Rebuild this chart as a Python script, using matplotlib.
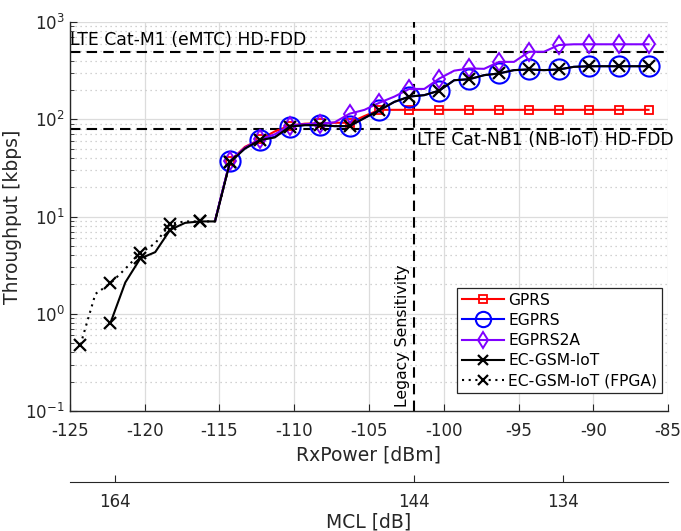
import matplotlib
matplotlib.use("Agg")
import matplotlib.pyplot as plt
from matplotlib.lines import Line2D

plt.rcParams['font.family'] = ['DejaVu Sans']

# ---------------- data ----------------
rx_upper = [-115.3, -114.3, -113.3, -112.3, -111.3, -110.3, -109.3, -108.3, -107.3, -106.3,
            -105.3, -104.3, -103.3, -102.3, -101.3, -100.3, -99.3, -98.3, -97.3, -96.3,
            -95.3, -94.3, -93.3, -92.3, -91.3, -90.3, -89.3, -88.3, -87.3, -86.3]

gprs = [9, 37, 52, 62, 75, 86, 90, 91, 92, 92,
        108, 125, 125, 125, 125, 125, 125, 125, 125, 125,
        125, 125, 125, 125, 125, 125, 125, 125, 125, 125]

egprs = [9, 37, 50, 61, 66, 84, 87, 87, 85, 85,
         103, 124, 151, 171, 177, 197, 252, 258, 284, 296,
         320, 325, 320, 325, 346, 351, 351, 351, 351, 351]

egprs2a = [9, 37, 51, 62, 70, 86, 89, 90, 93, 114,
           125, 148, 171, 205, 205, 262, 316, 333, 330, 389,
           389, 494, 494, 580, 590, 590, 590, 590, 590, 590]

rx_ec = [-122.3, -121.3, -120.3, -119.3, -118.3, -117.3, -116.3, -115.3, -114.3, -113.3,
         -112.3, -111.3, -110.3, -109.3, -108.3, -107.3, -106.3, -105.3, -104.3, -103.3,
         -102.3, -101.3, -100.3, -99.3, -98.3, -97.3, -96.3, -95.3, -94.3, -93.3,
         -92.3, -91.3, -90.3, -89.3, -88.3, -87.3, -86.3]
ec_gsm = [0.8, 2.1, 3.7, 4.3, 7.3, 8.6, 8.9, 8.9, 36, 50,
          61, 65, 84, 87, 87, 85, 85, 103, 124, 151,
          171, 177, 197, 252, 258, 284, 296, 320, 325, 320,
          325, 346, 351, 351, 351, 351, 351]

rx_fpga = [-124.3, -123.3, -122.3, -121.3, -120.3, -119.3, -118.3, -117.3, -116.3, -115.3, -114.3]
ec_fpga = [0.48, 1.6, 2.05, 2.9, 4.2, 5.3, 8.4, 8.9, 8.9, 8.9, 36]

cat_m1 = 495
cat_nb1 = 80
legacy_sens = -102
tx_power = 42
mcl_ticks = [164, 144, 134]
x_ticks = [-125, -120, -115, -110, -105, -100, -95, -90, -85]

# ---------------- figure ----------------
fig = plt.figure(figsize=(6.81, 5.31), dpi=100)
L, R, T, B = 70, 668, 22, 411
ax = fig.add_axes([L / 681, (531 - B) / 531, (R - L) / 681, (B - T) / 531])

ax.set_yscale('log')
ax.set_xlim(-125, -85)
ax.set_ylim(0.1, 1000)

grid_c = '#dcdcdc'
ax.grid(True, which='major', axis='both', color=grid_c, lw=0.9, ls='-')
ax.grid(True, which='minor', axis='y', color='#c4c4c4', lw=0.9, ls=(0, (1, 3)))
ax.set_axisbelow(True)

dash = (0, (5, 3))
ax.axhline(cat_m1, color='black', lw=1.5, ls=dash, zorder=2)
ax.axhline(cat_nb1, color='black', lw=1.5, ls=dash, zorder=2)
ax.axvline(legacy_sens, color='black', lw=1.5, ls=dash, zorder=2)

purple = '#8000ff'
ax.plot(rx_upper, gprs, color='red', lw=1.5, marker='s', ms=6, mfc='none', mew=1.3,
        markevery=(1, 2), label='GPRS', zorder=3)
ax.plot(rx_upper, egprs, color='blue', lw=1.5, marker='o', ms=14.5, mfc='none', mew=1.5,
        markevery=(1, 2), label='EGPRS', zorder=3)
ax.plot(rx_upper, egprs2a, color=purple, lw=1.5, marker='d', ms=9.5, mfc='none', mew=1.4,
        markevery=(1, 2), label='EGPRS2A', zorder=3)
ax.plot(rx_ec, ec_gsm, color='black', lw=1.5, marker='x', ms=8, mew=1.6,
        markevery=(0, 2), label='EC-GSM-IoT', zorder=4)
ax.plot(rx_fpga, ec_fpga, color='black', lw=1.5, ls=(0, (1, 2.2)), marker='x', ms=8, mew=1.6,
        markevery=(0, 2), label='EC-GSM-IoT (FPGA)', zorder=4)

ax.annotate('LTE Cat-M1 (eMTC) HD-FDD', xy=(-125, cat_m1), xytext=(0, 2),
            textcoords='offset points', ha='left', va='bottom', fontsize=12.4)
ax.annotate('LTE Cat-NB1 (NB-IoT) HD-FDD', xy=(legacy_sens, cat_nb1), xytext=(2, -2),
            textcoords='offset points', ha='left', va='top', fontsize=12.4,
            annotation_clip=False)
ax.annotate('Legacy Sensitivity', xy=(legacy_sens, 0.1), xytext=(-3, 3),
            textcoords='offset points', ha='right', va='bottom', rotation=90, fontsize=11.3)

ax.set_xticks(x_ticks)
ax.set_xticklabels([str(t) for t in x_ticks])
ax.tick_params(axis='both', which='both', direction='in', labelsize=12, colors='#262626')
ax.tick_params(axis='x', which='major', length=5, pad=8)
ax.tick_params(axis='y', which='major', length=5, pad=4)
ax.tick_params(axis='y', which='minor', length=3)
ax.spines['top'].set_visible(False)
ax.spines['right'].set_visible(False)
for s in ('left', 'bottom'):
    ax.spines[s].set_color('#262626')
    ax.spines[s].set_linewidth(1.0)

ax.set_xlabel('RxPower [dBm]', fontsize=13.5, color='#262626', labelpad=4)
ax.set_ylabel('Throughput [kbps]', fontsize=13.5, color='#262626', labelpad=2)

leg = ax.legend(loc='upper right', bbox_to_anchor=(0.99, 0.316), fontsize=11.2,
                fancybox=False, edgecolor='#262626', framealpha=1, numpoints=1,
                handlelength=2.7, borderpad=0.3, labelspacing=0.33, handletextpad=0.3,
                borderaxespad=0)
leg.get_frame().set_linewidth(0.9)
for h in leg.legend_handles:
    if isinstance(h, Line2D):
        if h.get_marker() == 'o':
            h.set_markersize(11)
        elif h.get_marker() == 'd':
            h.set_markersize(8)
        elif h.get_marker() == 'x':
            h.set_markersize(7)

# secondary MCL axis
sec = ax.secondary_xaxis(-(482 - B) / (B - T),
                         functions=(lambda r: tx_power - r, lambda m: tx_power - m))
sec.set_xticks(mcl_ticks)
sec.set_xticklabels([str(m) for m in mcl_ticks])
sec.tick_params(direction='in', length=5, pad=8, labelsize=12, colors='#262626')
sec.spines['bottom'].set_color('#262626')
sec.set_xlabel('MCL [dB]', fontsize=13.5, color='#262626', labelpad=1)

fig.savefig('out.png', dpi=100)
